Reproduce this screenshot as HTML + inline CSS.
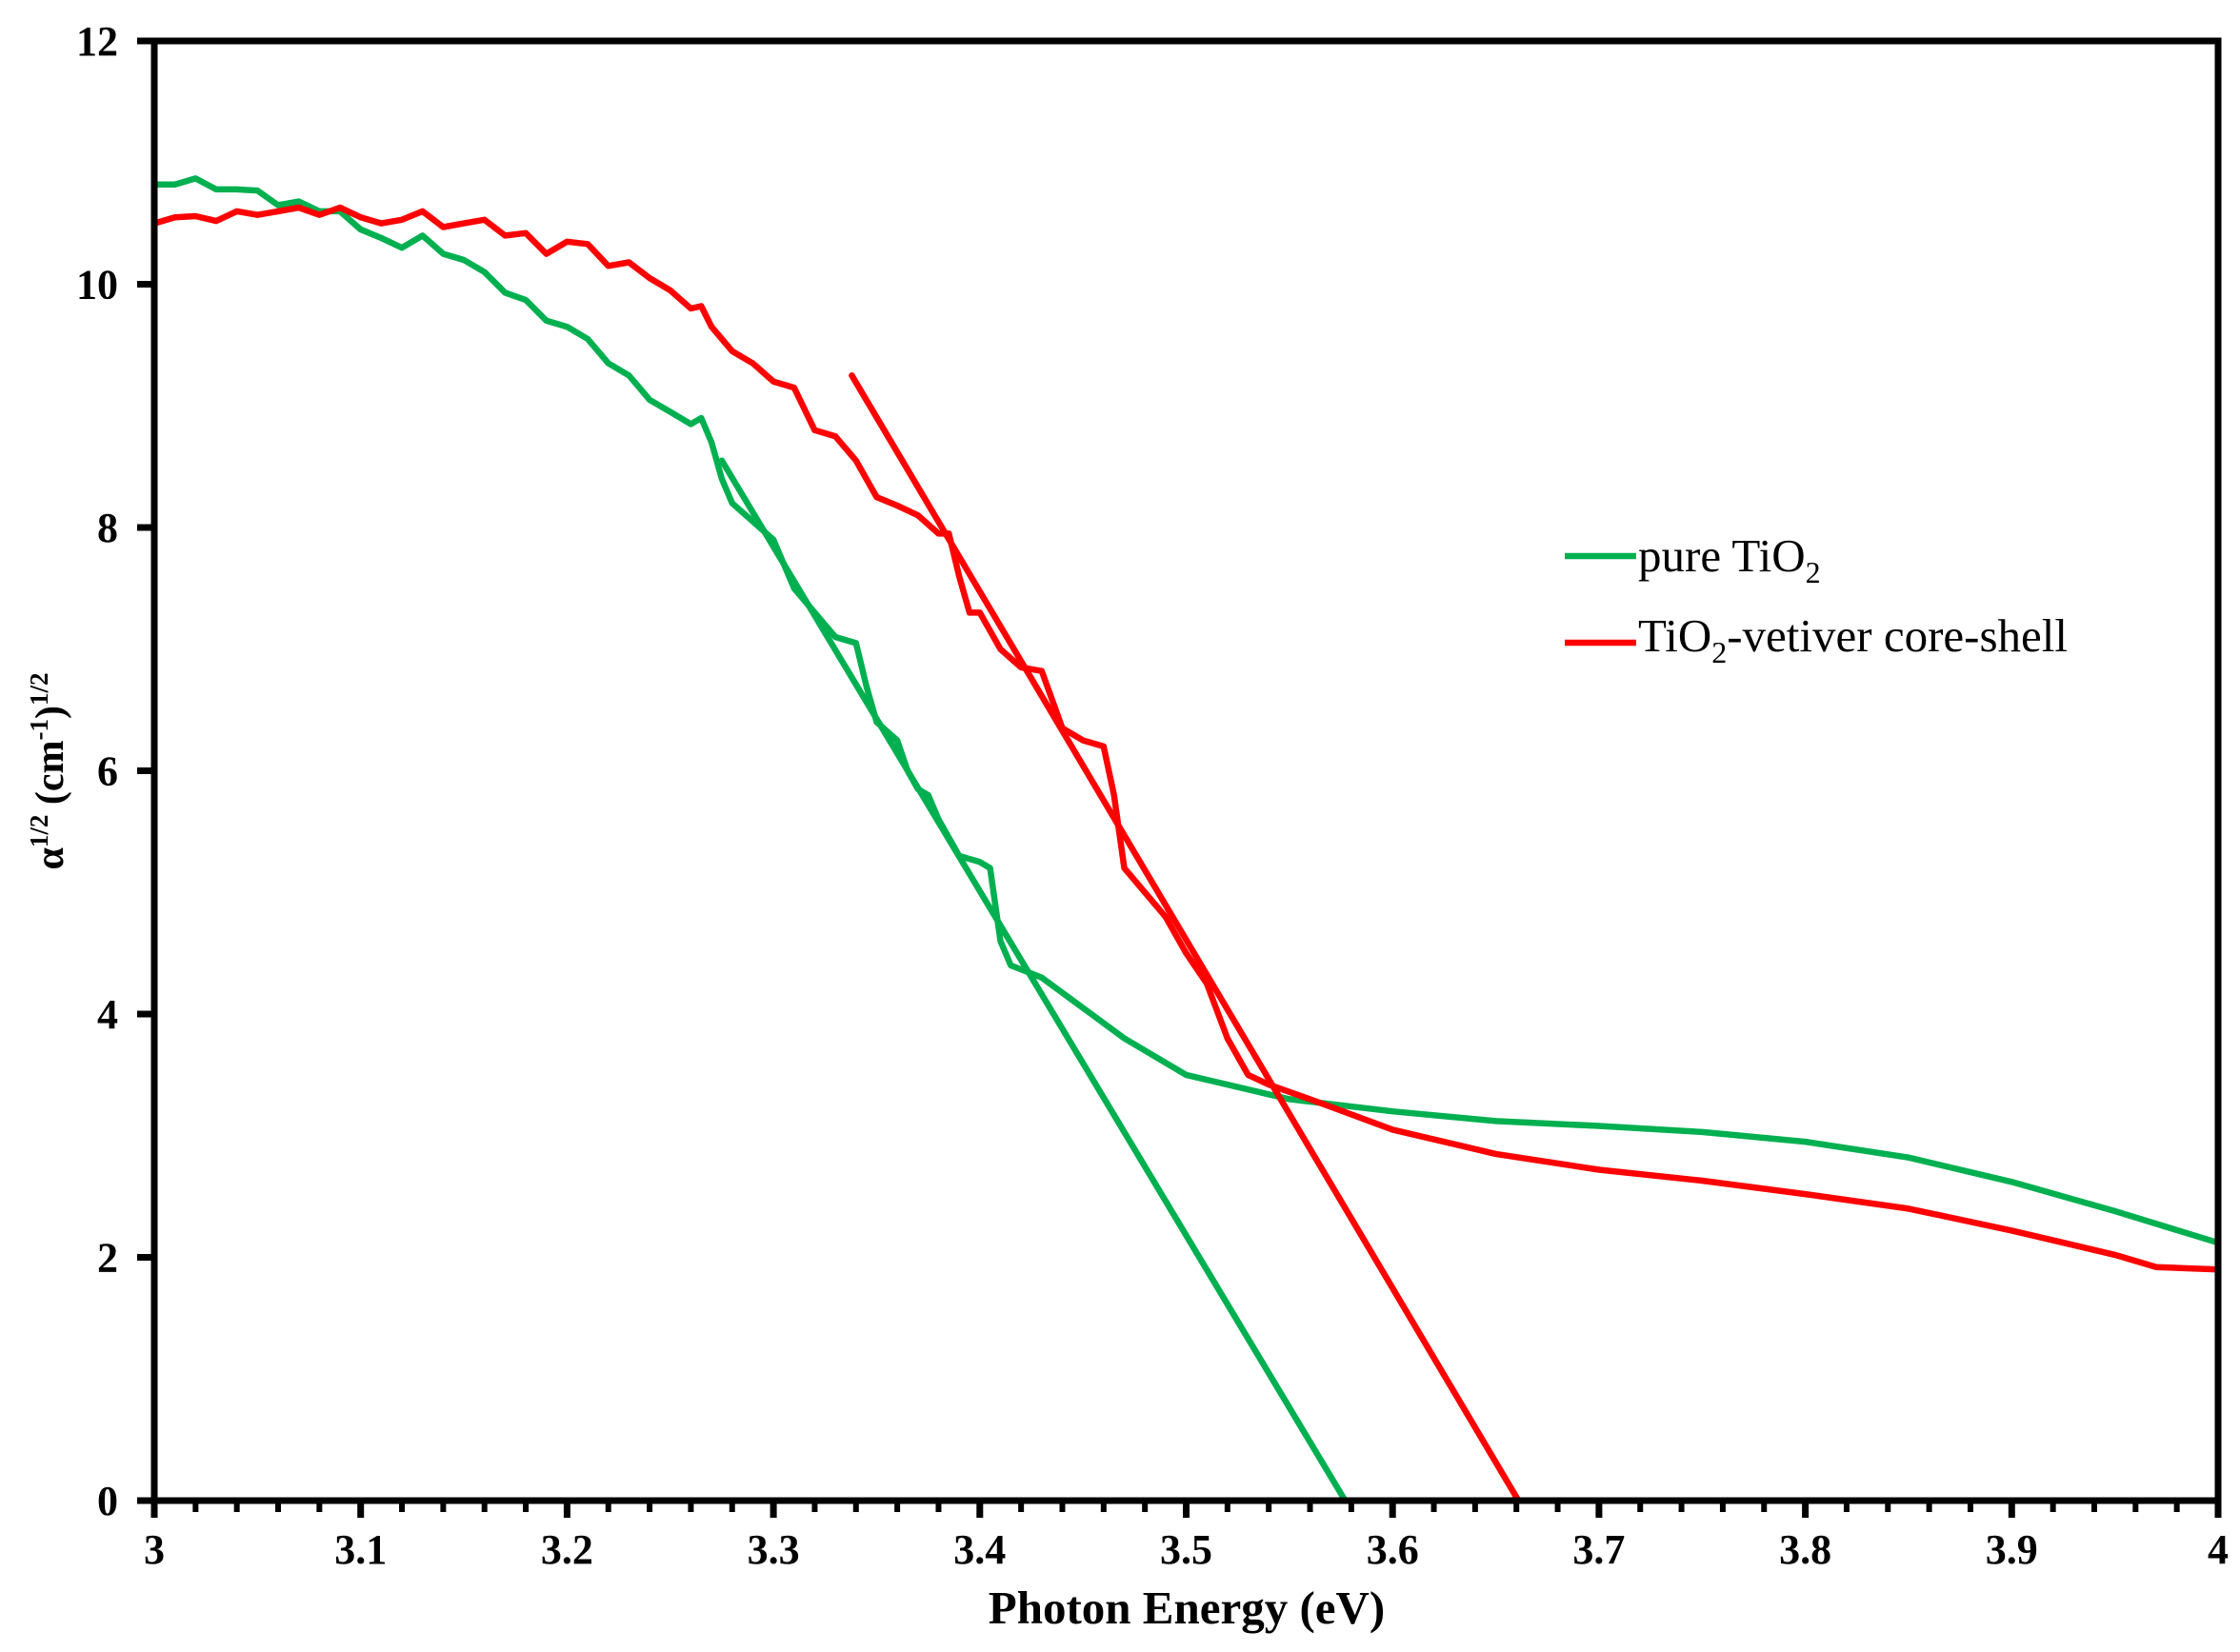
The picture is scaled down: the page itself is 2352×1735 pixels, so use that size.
<!DOCTYPE html>
<html><head><meta charset="utf-8"><style>
body{margin:0;background:#fff}
svg{display:block}
text{font-family:"Liberation Serif",serif}
</style></head><body>
<svg id="chart" width="2352" height="1735" xmlns="http://www.w3.org/2000/svg"></svg>
<script>
const xTicks=[3,3.1,3.2,3.3,3.4,3.5,3.6,3.7,3.8,3.9,4];
const xTickLabels=["3","3.1","3.2","3.3","3.4","3.5","3.6","3.7","3.8","3.9","4"];
const yTicks=[0,2,4,6,8,10,12];
const greenX=[3.00,3.01,3.02,3.03,3.04,3.05,3.06,3.07,3.08,3.09,3.10,3.11,3.12,3.13,3.14,3.15,3.16,3.17,3.18,3.19,3.20,3.21,3.22,3.23,3.24,3.25,3.26,3.265,3.27,3.275,3.28,3.29,3.30,3.31,3.32,3.33,3.34,3.345,3.35,3.36,3.365,3.37,3.375,3.38,3.39,3.40,3.405,3.41,3.415,3.43,3.45,3.47,3.50,3.55,3.60,3.65,3.70,3.75,3.80,3.85,3.90,3.95,4.0];
const greenY=[10.82,10.82,10.87,10.78,10.78,10.77,10.65,10.68,10.6,10.6,10.45,10.38,10.3,10.4,10.25,10.2,10.1,9.93,9.87,9.7,9.65,9.55,9.35,9.25,9.05,8.95,8.85,8.9,8.7,8.4,8.2,8.05,7.9,7.5,7.3,7.1,7.05,6.7,6.4,6.25,6.0,5.85,5.8,5.6,5.3,5.25,5.2,4.6,4.4,4.3,4.05,3.8,3.5,3.3,3.2,3.12,3.08,3.03,2.95,2.82,2.62,2.38,2.12];
const redX=[3.00,3.01,3.02,3.03,3.04,3.05,3.06,3.07,3.08,3.09,3.10,3.11,3.12,3.13,3.14,3.15,3.16,3.17,3.18,3.19,3.20,3.21,3.22,3.23,3.24,3.25,3.26,3.265,3.27,3.28,3.29,3.30,3.31,3.32,3.33,3.34,3.35,3.36,3.37,3.38,3.385,3.39,3.395,3.40,3.41,3.42,3.43,3.44,3.45,3.46,3.465,3.47,3.48,3.49,3.50,3.51,3.52,3.53,3.54,3.56,3.60,3.65,3.70,3.75,3.80,3.85,3.90,3.95,3.97,4.0];
const redY=[10.5,10.55,10.56,10.52,10.6,10.57,10.6,10.63,10.57,10.63,10.55,10.5,10.53,10.6,10.47,10.5,10.53,10.4,10.42,10.25,10.35,10.33,10.15,10.18,10.05,9.95,9.8,9.82,9.65,9.45,9.35,9.2,9.15,8.8,8.75,8.55,8.25,8.18,8.1,7.95,7.95,7.6,7.3,7.3,7.0,6.85,6.82,6.35,6.25,6.2,5.8,5.2,5.0,4.8,4.5,4.25,3.8,3.5,3.42,3.3,3.05,2.85,2.72,2.63,2.52,2.4,2.22,2.02,1.92,1.9];
const greenFitX=[3.275,3.577], greenFitY=[8.55,0];
const redFitX=[3.338,3.661], redFitY=[9.25,0];

const L=162,R=2329,T=43,B=1576;
const sx=v=>L+(v-3)/(4-3)*(R-L);
const sy=v=>B-(v/12)*(B-T);
const svg=document.getElementById('chart');
const NS='http://www.w3.org/2000/svg';
function mk(tag,attrs,parent){const e=document.createElementNS(NS,tag);for(const k in attrs)e.setAttribute(k,attrs[k]);(parent||svg).appendChild(e);return e;}

function series(xs,ys,color,name){
  const d=xs.map((x,i)=>(i?'L':'M')+sx(x).toFixed(1)+','+sy(ys[i]).toFixed(1)).join(' ');
  const p=mk('path',{d:d,fill:'none',stroke:color,'stroke-width':6.5,'stroke-linejoin':'round','stroke-linecap':'round'});
  
  
}
series(greenX,greenY,'#00b050','pure-tio2-curve');
series(redX,redY,'#ff0000','core-shell-curve');
series(greenFitX,greenFitY,'#00b050','pure-tio2-fit-line');
series(redFitX,redFitY,'#ff0000','core-shell-fit-line');

const fr=mk('rect',{x:L,y:T,width:R-L,height:B-T,fill:'none',stroke:'#000','stroke-width':7});



for(let i=0;i<=50;i++){
  const v=3+i*0.02;const major=i%5===0;
  const t=mk('line',{x1:sx(v),x2:sx(v),y1:B,y2:B+(major?18:12),stroke:'#000','stroke-width':major?7:6});
  
  
}
xTicks.forEach((v,i)=>{
  const t=mk('text',{x:sx(v),y:B+66,'text-anchor':'middle','font-size':44,'font-weight':'bold'});
  t.textContent=xTickLabels[i];
  
  
});
yTicks.forEach(v=>{
  const l=mk('line',{x1:L-18,x2:L,y1:sy(v),y2:sy(v),stroke:'#000','stroke-width':7});
  
  
  const t=mk('text',{x:124,y:sy(v)+15,'text-anchor':'end','font-size':44,'font-weight':'bold'});
  t.textContent=String(v);
  
  
});
</script>
<div style="position:absolute;left:0;top:0;width:2352px;height:1735px;pointer-events:none">
<svg width="2352" height="1735" xmlns="http://www.w3.org/2000/svg" style="position:absolute;left:0;top:0">
  <text x="1246" y="1705" text-anchor="middle" font-size="49" font-weight="bold" font-family="Liberation Serif, serif">Photon Energy (eV)</text>
  <text transform="translate(66,810) rotate(-90)" text-anchor="middle" font-size="42" font-weight="bold" font-family="Liberation Serif, serif">α<tspan font-size="27" dy="-16">1/2</tspan><tspan dy="16"> (cm</tspan><tspan font-size="27" dy="-16">-1</tspan><tspan dy="16">)</tspan><tspan font-size="27" dy="-16">1/2</tspan></text>
  <g>
    <line x1="1643" y1="584" x2="1718" y2="584" stroke="#00b050" stroke-width="6.5"/>
    <text x="1720" y="600" font-size="49" font-family="Liberation Serif, serif">pure TiO<tspan font-size="32" dy="12">2</tspan></text>
    <line x1="1643" y1="675" x2="1718" y2="675" stroke="#ff0000" stroke-width="6.5"/>
    <text x="1720" y="684" font-size="49" font-family="Liberation Serif, serif">TiO<tspan font-size="32" dy="12">2</tspan><tspan dy="-12">-vetiver core-shell</tspan></text>
  </g>
</svg>
</div>
</body></html>
